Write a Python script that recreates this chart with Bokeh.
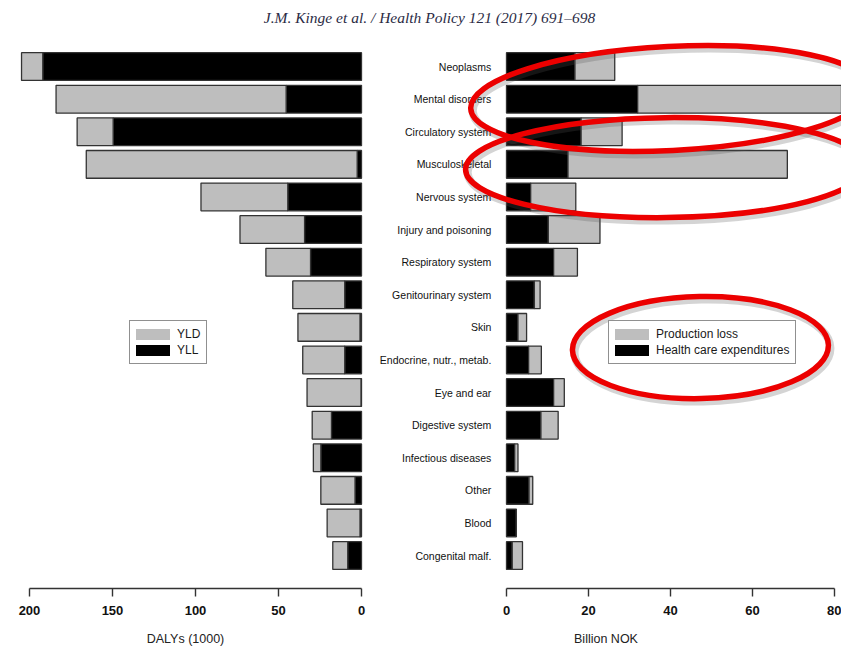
from bokeh.plotting import figure
from bokeh.models import Range1d, FixedTicker, ColumnDataSource, Legend, LegendItem, Div
from bokeh.layouts import column, row
from bokeh.core.properties import value
from bokeh.embed import file_html
from bokeh.resources import INLINE

# ---------------- data ----------------
categories = ["Neoplasms", "Mental disorders", "Circulatory system", "Musculoskeletal",
              "Nervous system", "Injury and poisoning", "Respiratory system",
              "Genitourinary system", "Skin", "Endocrine, nutr., metab.", "Eye and ear",
              "Digestive system", "Infectious diseases", "Other", "Blood", "Congenital malf."]
# DALYs (1000)
yll = [192.0, 45.4, 149.6, 2.6, 44.4, 34.3, 30.7, 10.1, 0.9, 10.1, 0.3, 18.1, 24.5, 3.9, 0.9, 8.3]
yld = [12.8, 138.6, 21.7, 163.2, 52.3, 38.9, 26.9, 31.3, 37.4, 25.3, 32.5, 11.6, 4.5, 20.6, 19.8, 9.0]
# Billion NOK
health_exp = [16.7, 32.0, 18.2, 15.0, 5.9, 10.2, 11.5, 6.8, 2.8, 5.4, 11.5, 8.4, 2.0, 5.5, 2.4, 1.4]
prod_loss = [9.7, 51.0, 10.0, 53.5, 11.0, 12.6, 5.8, 1.4, 2.1, 3.1, 2.6, 4.2, 0.8, 0.9, 0.0, 2.5]

left_ticks = [0, 50, 100, 150, 200]
right_ticks = [0, 20, 40, 60, 80]

header = "J.M. Kinge et al. / Health Policy 121 (2017) 691\u2013698"

# red highlight ellipses (annotation marks on the right panel)
hl_x = [40.0, 38.8, 47.3]
hl_y = [0.98, 3.10, 8.62]
hl_w = [400, 400, 256]
hl_h = [104, 100, 102]
hl_angle = [0.05, 0.01, 0.02]

rows = list(range(len(categories)))
src_l = ColumnDataSource(dict(y=rows, yll=yll, yld=yld))
src_r = ColumnDataSource(dict(y=rows, hce=health_exp, prod=prod_loss, name=categories))
src_hl = ColumnDataSource(dict(x=hl_x, y=hl_y, w=hl_w, h=hl_h, a=hl_angle))
src_sh = ColumnDataSource(dict(x=[v + 0.5 for v in hl_x], y=[v + 0.09 for v in hl_y],
                               w=hl_w, h=hl_h, a=hl_angle))

GRAY = "#bebebe"
EDGE = "#333333"
FONT = "Liberation Sans"
OFF = [-1000, -1001]  # legend-only dummy lines, placed far outside the view


def style_axis(ax, ticks, bounds, label):
    ax.ticker = FixedTicker(ticks=ticks)
    ax.bounds = bounds
    ax.axis_line_color = "#333333"
    ax.axis_line_width = 1.4
    ax.major_tick_line_color = "#333333"
    ax.major_tick_line_width = 1.4
    ax.major_tick_out = 8
    ax.major_tick_in = 0
    ax.minor_tick_line_color = None
    ax.major_label_standoff = 9
    ax.major_label_text_font = FONT
    ax.major_label_text_font_size = "13px"
    ax.major_label_text_font_style = "bold"
    ax.major_label_text_color = "#111111"
    ax.axis_label = label
    ax.axis_label_standoff = 14
    ax.axis_label_text_font = FONT
    ax.axis_label_text_font_size = "12.5px"
    ax.axis_label_text_font_style = "normal"
    ax.axis_label_text_color = "#222222"


def style_legend(lg, loc):
    lg.location = loc
    lg.glyph_width = 34
    lg.glyph_height = 14
    lg.label_height = 14
    lg.label_standoff = 7
    lg.spacing = 2
    lg.padding = 6
    lg.margin = 0
    lg.border_line_color = "#222222"
    lg.border_line_width = 1.5
    lg.background_fill_alpha = 1.0
    lg.label_text_font = FONT
    lg.label_text_font_size = "12px"
    lg.label_text_color = "#1a1a1a"


yr = Range1d(16.01, -0.80)

# ---------------- left panel ----------------
left = figure(width=370, height=612, x_range=Range1d(217.47, -5.42), y_range=yr,
              output_backend="svg", toolbar_location=None,
              min_border_left=0, min_border_right=0, min_border_top=0, min_border_bottom=64,
              y_axis_location=None, outline_line_color=None, background_fill_color="white")
left.grid.visible = False
left.hbar_stack(["yll", "yld"], y="y", height=0.85, fill_color=["black", GRAY],
                line_color=EDGE, line_width=1.3, source=src_l)
style_axis(left.xaxis[0], left_ticks, (0, 200), "DALYs (1000)")
l_yld = left.line(x=OFF, y=OFF, line_color=GRAY, line_width=11, line_cap="round")
l_yll = left.line(x=OFF, y=OFF, line_color="black", line_width=11, line_cap="round")
lg_left = Legend(items=[LegendItem(label="YLD", renderers=[l_yld]),
                        LegendItem(label="YLL", renderers=[l_yll])])
style_legend(lg_left, (129, 224))
left.add_layout(lg_left)

# ---------------- right panel ----------------
right = figure(width=471, height=612, x_range=Range1d(-33.17, 81.71), y_range=yr,
               output_backend="svg", toolbar_location=None,
               min_border_left=0, min_border_right=0, min_border_top=0, min_border_bottom=64,
               y_axis_location=None, outline_line_color=None, background_fill_color="white")
right.grid.visible = False
right.hbar_stack(["hce", "prod"], y="y", height=0.85, fill_color=["black", GRAY],
                 line_color=EDGE, line_width=1.3, source=src_r)
right.text(x=-3.7, y="y", text="name", source=src_r, text_align="right",
           text_baseline="middle", text_font=value(FONT), text_font_size="10.5px",
           text_color="#111111")
style_axis(right.xaxis[0], right_ticks, (0, 80), "Billion NOK")
r_prod = right.line(x=OFF, y=OFF, line_color=GRAY, line_width=11, line_cap="round")
r_hce = right.line(x=OFF, y=OFF, line_color="black", line_width=11, line_cap="round")
lg_right = Legend(items=[LegendItem(label="Production loss", renderers=[r_prod]),
                         LegendItem(label="Health care expenditures", renderers=[r_hce])])
style_legend(lg_right, (238, 224))
right.add_layout(lg_right)

# highlight ellipses with a soft shadow
right.ellipse(x="x", y="y", width="w", height="h", angle="a", width_units="screen",
              height_units="screen", fill_color=None, line_color="#555555",
              line_alpha=0.25, line_width=8, source=src_sh)
right.ellipse(x="x", y="y", width="w", height="h", angle="a", width_units="screen",
              height_units="screen", fill_color=None, line_color="#ec0000",
              line_width=5.5, source=src_hl)

head = Div(text=header, width=841, height=40, margin=(0, 0, 0, 0),
           styles={"width": "841px", "text-align": "center", "padding-top": "7px",
                   "padding-left": "18px", "box-sizing": "border-box",
                   "font-family": "'Liberation Serif'", "font-style": "italic",
                   "font-size": "15.5px", "color": "#2b2b45"})

layout = column(head, row(left, right, spacing=0), spacing=0)

open("out.html", "w").write(file_html(layout, INLINE))
